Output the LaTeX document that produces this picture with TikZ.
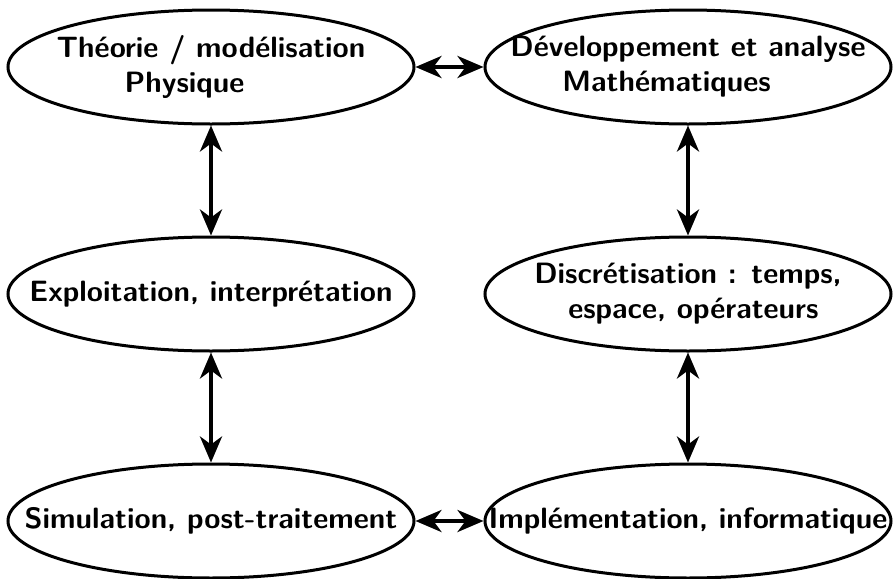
\documentclass[tikz,border=0pt]{standalone}
\usepackage{tikz}
\usetikzlibrary{shapes.geometric, arrows.meta, positioning}

\begin{document}
\begin{tikzpicture}[
    etape/.style={ellipse, draw, line width=1.5pt, minimum width=203pt, minimum height=57pt, inner xsep=-32pt, inner ysep=2pt, font=\sffamily\bfseries\fontsize{14.7}{17.5}\selectfont, align=left},
    lien/.style={{Stealth[length=13pt,width=11pt,inset=4pt]}-{Stealth[length=13pt,width=11pt,inset=4pt]}, line width=2pt}
]
\useasboundingbox (-105.5pt,33.5pt) rectangle (342.5pt,-256pt);
\node[etape] (theorie) {Théorie / modélisation\\\hspace*{34pt}Physique};
\node[etape, right=34pt of theorie] (devel) {Développement et analyse\\\hspace*{26pt}Mathématiques};
\node[etape, below=55pt of theorie] (exploit) {Exploitation, interprétation};
\node[etape, below=55pt of devel] (discret) {Discrétisation : temps,\\\hspace*{17pt}espace, opérateurs};
\node[etape, below=55pt of exploit] (simul) {Simulation, post-traitement};
\node[etape, below=55pt of discret] (implem) {Implémentation, informatique};

\draw[lien] (theorie) -- (devel);
\draw[lien] (theorie) -- (exploit);
\draw[lien] (devel) -- (discret);
\draw[lien] (exploit) -- (simul);
\draw[lien] (discret) -- (implem);
\draw[lien] (simul) -- (implem);
\end{tikzpicture}
\end{document}
